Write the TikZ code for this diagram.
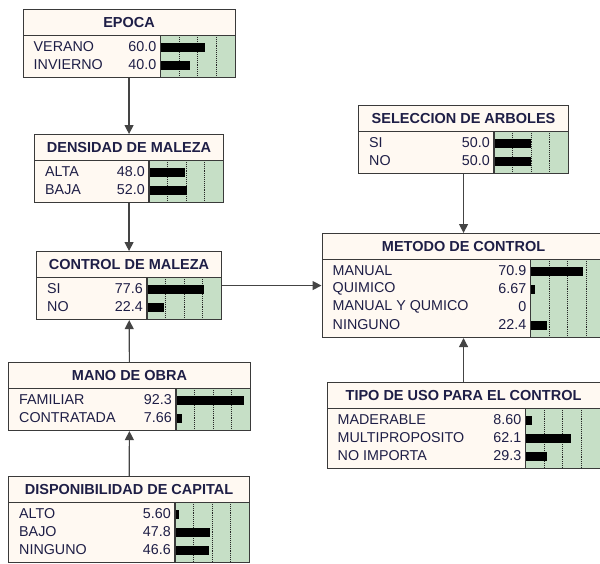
\documentclass[tikz,border=0pt]{standalone}
\usepackage{fontspec}
\setmainfont{Liberation Sans}
\usetikzlibrary{arrows.meta}

\definecolor{cream}{HTML}{FFF9F2}
\definecolor{bargreen}{HTML}{C6DFC6}
\definecolor{ink}{HTML}{1E1E46}
\definecolor{edgegray}{HTML}{3A3A3A}
\definecolor{linegray}{HTML}{444444}

\tikzset{
    boxedge/.style = {draw = edgegray, line width = 1.1pt},
    titlebox/.style = {boxedge, fill = cream, minimum height = 26pt, inner sep = 0pt,
        anchor = north west, font = \fontsize{14.5}{16}\selectfont\bfseries, text = ink},
    statelab/.style = {inner sep = 0pt, anchor = west, font = \fontsize{14.3}{16}\selectfont, text = ink},
    stateval/.style = {statelab, anchor = east},
    gridline/.style = {densely dotted, line width = 0.9pt, black!85},
    link/.style = {->, >={Triangle[length = 9pt, width = 9pt]}, line width = 1.2pt, draw = linegray}
}

\newcommand{\netvar}[7]{
    \pgfmathsetmacro{\boxw}{#4 + 74}
    \pgfmathsetmacro{\boxh}{50 + 18*(#5 - 1)}
    \begin{scope}[shift = {(#2,#3)}]
        \fill[cream] (0,26) rectangle (#4,\boxh);
        \fill[bargreen] (#4,26) rectangle (\boxw,\boxh);
        \foreach \q in {0.25, 0.5, 0.75}
            \draw[gridline] ({#4 + 74*\q},26) -- ({#4 + 74*\q},\boxh);
        \foreach \lab/\val [count = \i] in {#7} {
            \pgfmathsetmacro{\rowy}{38 + 18*(\i - 1)}
            \node[statelab] at (11,\rowy) {\lab};
            \node[stateval] at (#4 - 4,\rowy) {\val};
            \fill (#4,\rowy - 4) rectangle (#4 + 0.74*\val,\rowy + 5);
        }
        \draw[boxedge] (#4,26) -- (#4,\boxh);
        \node[titlebox, minimum width = \boxw pt] (#1-title) at (0,0) {#6};
        \node[boxedge, inner sep = 0pt, anchor = north west, minimum width = \boxw pt,
            minimum height = \boxh pt] (#1) at (0,0) {};
    \end{scope}
}

\begin{document}
\begin{tikzpicture}[x = 1pt, y = -1pt]
    \useasboundingbox (0,0) rectangle (600,563);
    \fill[white] (0,0) rectangle (600,563);
    \clip (0,0) rectangle (600,563);

    \netvar{epoca}{22.5}{9}{138}{2}{EPOCA}{VERANO/60.0, INVIERNO/40.0}
    \netvar{densidad}{34}{134}{115}{2}{DENSIDAD DE MALEZA}{ALTA/48.0, BAJA/52.0}
    \netvar{control}{36}{251}{111}{2}{CONTROL DE MALEZA}{SI/77.6, NO/22.4}
    \netvar{mano}{8}{362}{168}{2}{MANO DE OBRA}{FAMILIAR/92.3, CONTRATADA/7.66}
    \netvar{capital}{8}{476}{167}{3}{DISPONIBILIDAD DE CAPITAL}{ALTO/5.60, BAJO/47.8, NINGUNO/46.6}
    \netvar{seleccion}{358}{105}{136}{2}{SELECCION DE ARBOLES}{SI/50.0, NO/50.0}
    \netvar{metodo}{321.5}{233}{209}{4}{METODO DE CONTROL}{MANUAL/70.9, QUIMICO/6.67, MANUAL Y QUMICO/0, NINGUNO/22.4}
    \netvar{uso}{326.5}{382}{199}{3}{TIPO DE USO PARA EL CONTROL}{MADERABLE/8.60, MULTIPROPOSITO/62.1, NO IMPORTA/29.3}

    \draw[link] (epoca) -- (densidad);
    \draw[link] (densidad) -- (control);
    \draw[link] (mano) -- (control);
    \draw[link] (capital) -- (mano);
    \draw[link] (control) -- (metodo);
    \draw[link] (seleccion) -- (metodo);
    \draw[link] (uso) -- (metodo);
\end{tikzpicture}
\end{document}
